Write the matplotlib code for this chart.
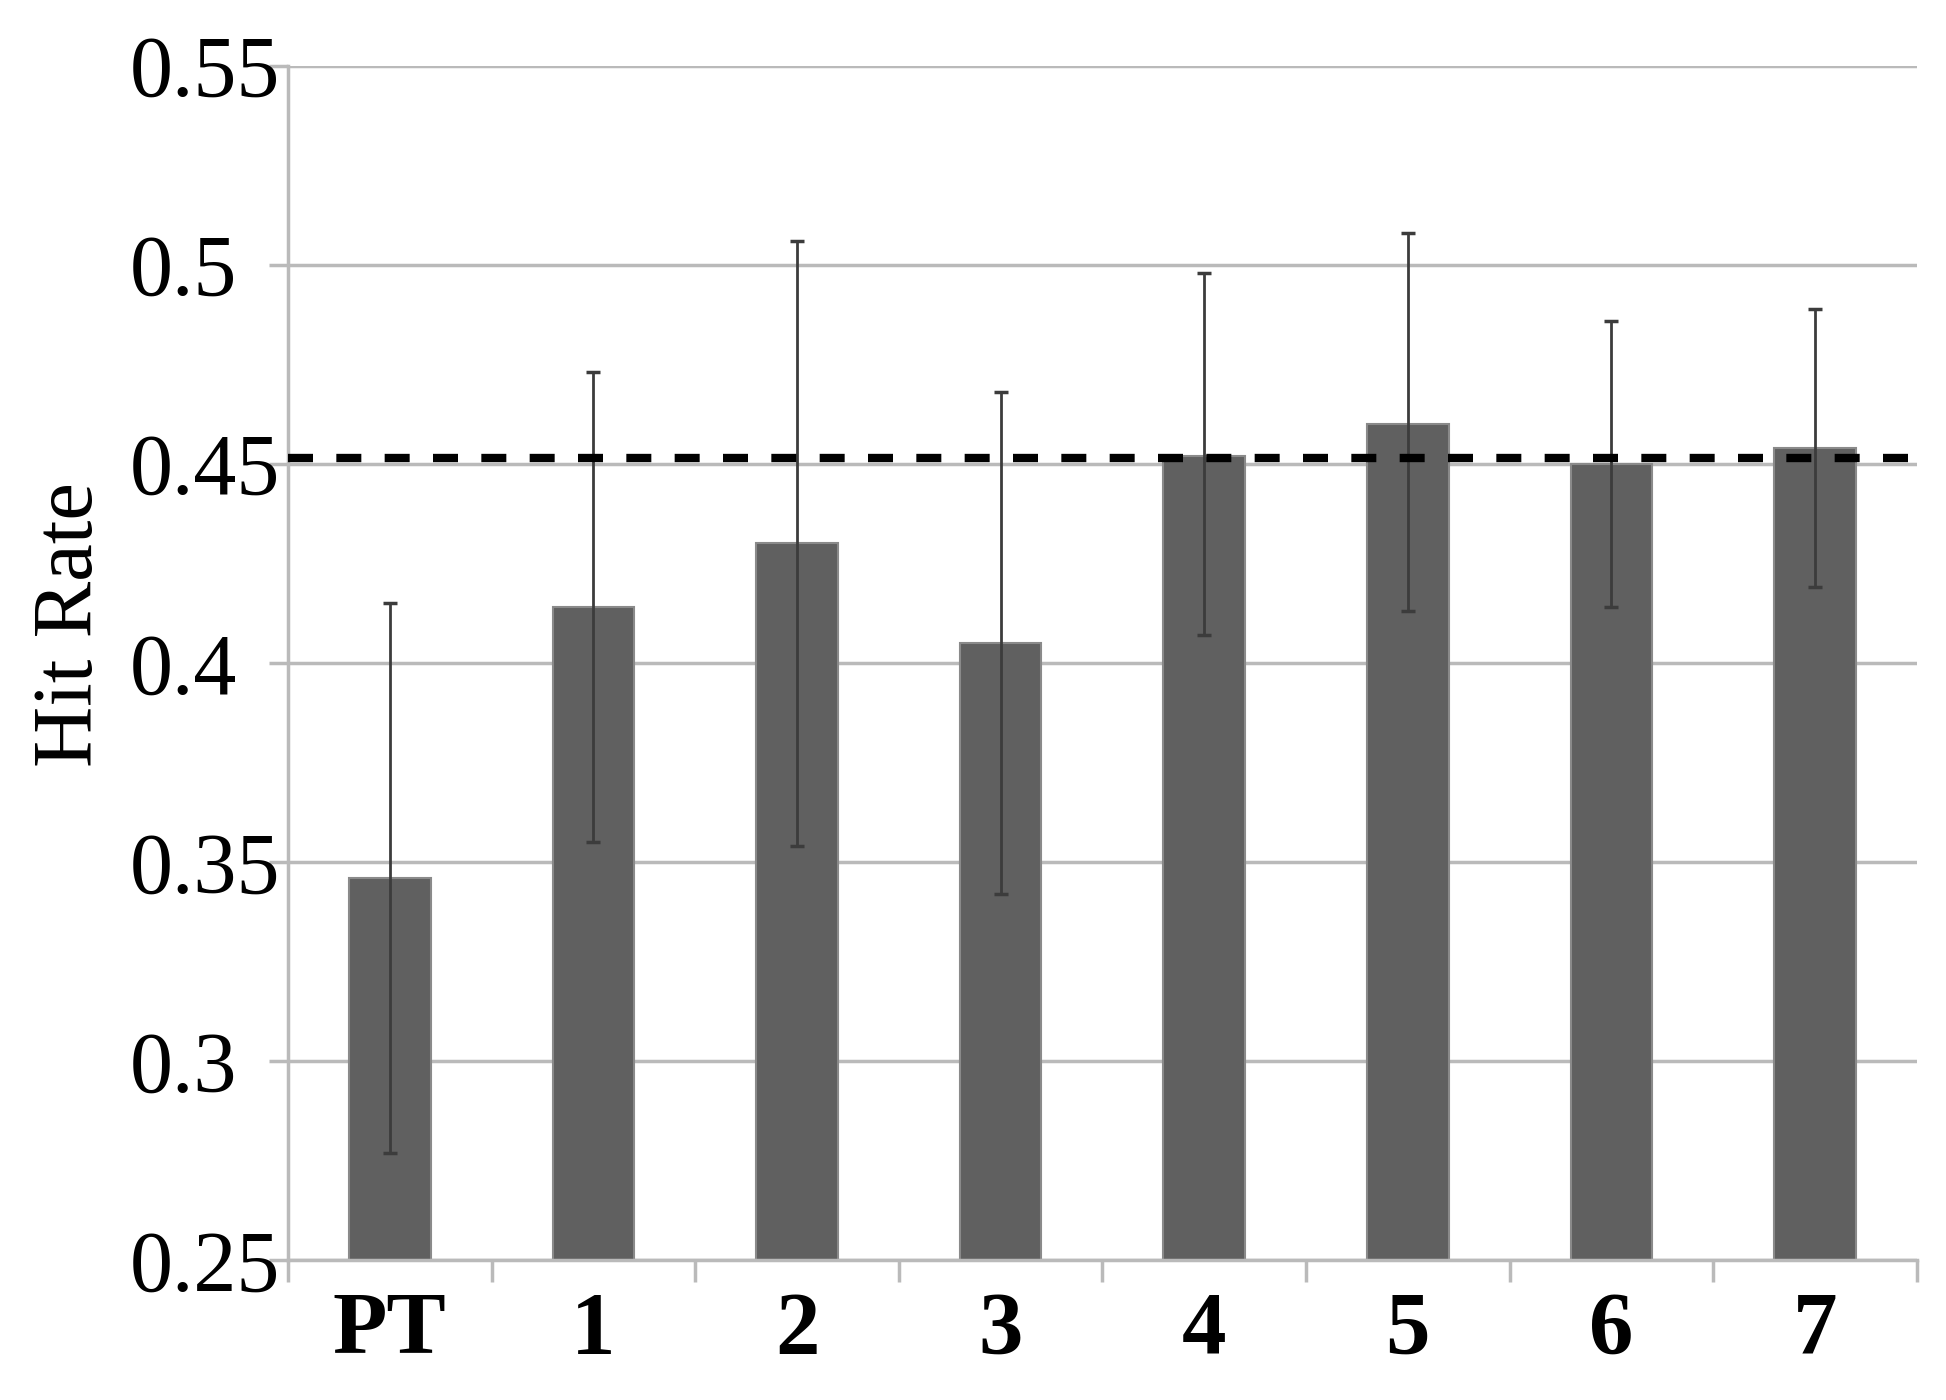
import matplotlib.pyplot as plt
import numpy as np

categories = ['PT', '1', '2', '3', '4', '5', '6', '7']
hit_rate = [0.346, 0.414, 0.430, 0.405, 0.452, 0.460, 0.450, 0.454]
err_upper = [0.069, 0.059, 0.076, 0.063, 0.046, 0.048, 0.036, 0.035]
err_lower = [0.069, 0.059, 0.076, 0.063, 0.045, 0.047, 0.036, 0.035]
baseline = 0.4515
y_ticks = [0.25, 0.3, 0.35, 0.4, 0.45, 0.5, 0.55]
y_tick_labels = ['0.25', '0.3', '0.35', '0.4', '0.45', '0.5', '0.55']

plt.rcParams['font.family'] = ['Liberation Serif', 'DejaVu Serif']

fig = plt.figure(figsize=(19.46, 14), dpi=100)
ax = fig.add_axes([0.148, 0.1, 0.837, 0.853])

x = np.arange(len(categories))
ax.bar(x, hit_rate, width=0.4, color='#606060', edgecolor='#8a8a8a', linewidth=1.5, zorder=2)
ax.errorbar(x, hit_rate, yerr=[err_lower, err_upper], fmt='none', ecolor='#3c3c3c',
            elinewidth=2, capsize=5, capthick=2.5, zorder=3)
ax.axhline(baseline, color='black', linewidth=6, linestyle=(0, (3, 2.8)), zorder=4)

ax.set_xlim(-0.5, len(categories) - 0.5)
ax.set_ylim(0.25, 0.55)
ax.set_yticks(y_ticks)
ax.set_yticklabels(y_tick_labels, fontsize=62, ha='left')
ax.yaxis.grid(True, color='#bababa', linewidth=2.5, zorder=0)
ax.set_axisbelow(True)

ax.set_xticks(x)
ax.set_xticklabels(categories, fontsize=64, fontweight='bold')
ax.set_xticks(np.arange(len(categories) + 1) - 0.5, minor=True)
ax.tick_params(axis='x', which='major', length=0, pad=22)
ax.tick_params(axis='x', which='minor', length=16, width=2.5, color='#bababa')
ax.tick_params(axis='y', length=14, width=2.5, color='#bababa', pad=100)

for side in ['top', 'right']:
    ax.spines[side].set_visible(False)
for side in ['left', 'bottom']:
    ax.spines[side].set_color('#bababa')
    ax.spines[side].set_linewidth(2.5)

ax.set_ylabel('Hit Rate', fontsize=61)
ax.yaxis.set_label_coords(-0.109, 0.532)

fig.savefig('out.png', dpi=100)
